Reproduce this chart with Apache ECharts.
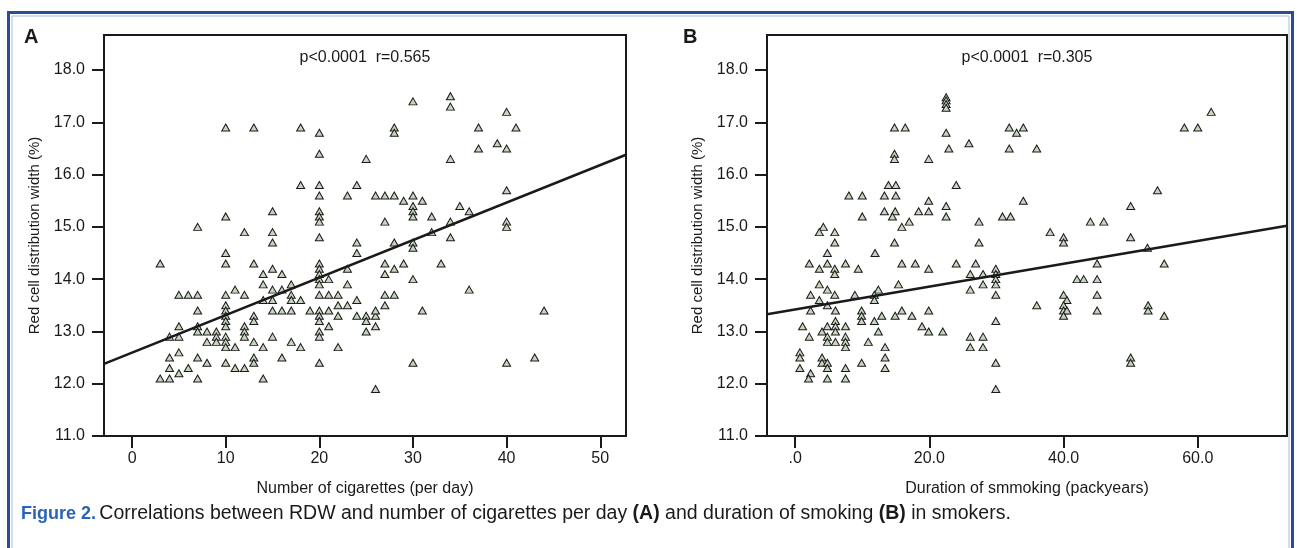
<!DOCTYPE html>
<html>
<head>
<meta charset="utf-8">
<script src="https://cdn.jsdelivr.net/npm/echarts@6/dist/echarts.min.js"></script>
<style>
html,body{margin:0;padding:0;background:#fff;}
#chart{width:1297px;height:548px;}
</style>
</head>
<body>
<div id="chart"></div>
<script>
// ---------- Panel A: number of cigarettes per day vs RDW ----------
var cigarettesA = [10,13,18,20,20,18,20,20,15,10,20,20,20,7,12,15,20,15,10,
3,10,13,14,15,16,20,20,20,20,20,21,14,15,16,17,17,17,18,11,12,
5,6,7,10,14,15,7,10,10,10,10,10,13,13,15,16,17,19,20,20,20,21,
22,22,21,20,20,5,7,4,5,7,8,9,9,8,9,10,10,10,11,12,12,12,13,14,15,17,18,22,
4,5,7,8,4,6,5,3,4,7,10,11,12,13,13,16,14,20,20,21,22,
34,30,34,40,28,28,37,41,39,37,40,25,34,24,23,26,27,28,30,29,31,30,30,30,40,35,36,27,32,34,40,40,32,34,24,24,28,30,30,
27,28,29,33,23,27,30,23,36,24,27,28,23,27,24,25,26,26,31,44,25,26,25,30,40,43,26];
var rdwA = [16.9,16.9,16.9,16.8,16.4,15.8,15.8,15.6,15.3,15.2,15.3,15.2,15.1,15.0,14.9,14.9,14.8,14.7,14.5,
14.3,14.3,14.3,14.1,14.2,14.1,14.3,14.2,14.1,14.0,13.9,14.0,13.9,13.8,13.8,13.9,13.7,13.6,13.6,13.8,13.7,
13.7,13.7,13.7,13.7,13.6,13.6,13.4,13.5,13.4,13.3,13.2,13.1,13.3,13.2,13.4,13.4,13.4,13.4,13.4,13.3,13.2,13.4,
13.5,13.3,13.1,13.0,12.9,13.1,13.1,12.9,12.9,13.0,13.0,13.0,12.9,12.8,12.8,12.9,12.8,12.7,12.7,13.1,13.0,12.9,12.8,12.7,12.9,12.8,12.7,12.7,
12.5,12.6,12.5,12.4,12.3,12.3,12.2,12.1,12.1,12.1,12.4,12.3,12.3,12.5,12.4,12.5,12.1,12.4,13.7,13.7,13.7,
17.5,17.4,17.3,17.2,16.9,16.8,16.9,16.9,16.6,16.5,16.5,16.3,16.3,15.8,15.6,15.6,15.6,15.6,15.6,15.5,15.5,15.4,15.3,15.2,15.7,15.4,15.3,15.1,15.2,15.1,15.1,15.0,14.9,14.8,14.7,14.5,14.7,14.7,14.6,
14.3,14.2,14.3,14.3,14.2,14.1,14.0,13.9,13.8,13.6,13.7,13.7,13.5,13.5,13.3,13.3,13.3,13.4,13.4,13.4,13.2,13.1,13.0,12.4,12.4,12.5,11.9];
var fitLineA = [[-3, 12.38], [52.75, 16.38]];
var xTicksA = [0, 10, 20, 30, 40, 50];
var xTickLabelsA = ['0', '10', '20', '30', '40', '50'];
var statsA = 'p<0.0001  r=0.565';

// ---------- Panel B: duration of smoking (packyears) vs RDW ----------
var packyearsB = [22.5,22.5,22.5,22.5,14.8,16.4,22.5,25.9,22.9,14.8,14.8,19.9,13.9,15.0,24.0,8,10,13.3,15,19.9,22.5,13.3,14.9,18.4,19.9,10,14.5,22.5,17,15.9,27.4,4.2,3.6,5.9,5.9,14.8,27.4,4.8,11.9,
2.1,4.8,3.6,5.9,5.9,7.5,9.4,15.9,17.9,19.9,24,26.9,26.1,28,29.9,29.9,29.9,29.9,28,26.1,29.9,15.4,3.6,2.3,4.8,5.9,8.9,12.4,11.8,11.8,3.6,2.3,4.8,6.0,9.9,9.9,9.9,12.9,11.8,14.9,15.9,17.4,19.9,18.9,19.9,22,12.4,1.1,2.1,4.0,4.8,6.0,6.0,6.0,4.8,4.8,6.0,7.5,7.5,7.5,7.5,10.9,13.4,13.4,13.4,9.9,0.7,0.7,0.7,2.3,2.0,4.0,4.0,4.8,4.8,4.8,7.5,7.5,26.1,28,26.1,28,29.9,29.9,29.9,
62,58,60,31.9,34,33,31.9,36,54,34,50,30.9,32.1,44,46,38,40,40,50,52.5,
45,55,42,43,45,40,40.5,45,36,40,40,40.5,40,45,52.6,52.6,55,50,50];
var rdwB = [17.48,17.42,17.35,17.28,16.9,16.9,16.8,16.6,16.5,16.4,16.3,16.3,15.8,15.8,15.8,15.6,15.6,15.6,15.6,15.5,15.4,15.3,15.3,15.3,15.3,15.2,15.2,15.2,15.1,15.0,15.1,15.0,14.9,14.9,14.7,14.7,14.7,14.5,14.5,
14.3,14.3,14.2,14.2,14.1,14.3,14.2,14.3,14.3,14.2,14.3,14.3,14.1,14.1,14.2,14.1,14.0,13.9,13.9,13.8,13.7,13.9,13.9,13.7,13.8,13.7,13.7,13.8,13.7,13.6,13.6,13.4,13.5,13.4,13.4,13.3,13.2,13.3,13.2,13.3,13.4,13.3,13.4,13.1,13.0,13.0,13.0,13.1,12.9,13.0,13.1,13.2,13.1,13.0,12.9,12.8,12.8,13.1,12.9,12.8,12.7,12.8,12.7,12.5,12.3,12.4,12.6,12.5,12.3,12.2,12.1,12.5,12.4,12.4,12.3,12.1,12.3,12.1,12.9,12.9,12.7,12.7,13.2,12.4,11.9,
17.2,16.9,16.9,16.9,16.9,16.8,16.5,16.5,15.7,15.5,15.4,15.2,15.2,15.1,15.1,14.9,14.8,14.7,14.8,14.6,
14.3,14.3,14.0,14.0,14.0,13.7,13.6,13.7,13.5,13.5,13.4,13.4,13.3,13.4,13.5,13.4,13.3,12.5,12.4];
var fitLineB = [[-4.2, 13.33], [73.3, 15.02]];
var xTicksB = [0, 20, 40, 60];
var xTickLabelsB = ['.0', '20.0', '40.0', '60.0'];
var statsB = 'p<0.0001  r=0.305';

// ---------- shared y axis ----------
var yTicks = [11, 12, 13, 14, 15, 16, 17, 18];
var yTickLabels = ['11.0', '12.0', '13.0', '14.0', '15.0', '16.0', '17.0', '18.0'];

var panelLetters = ['A', 'B'];
var xNames = ['Number of cigarettes (per day)', 'Duration of smmoking (packyears)'];
var yName = 'Red cell distribution width (%)';

function zip(a, b) { return a.map(function (v, i) { return [v, b[i]]; }); }

var FONT = '"Liberation Sans", Arial, Helvetica, sans-serif';
var INK = '#1a1a1a';

function makeX(idx, min, max, ticks, labels) {
  return {
    gridIndex: idx, type: 'value', min: min, max: max,
    name: xNames[idx], nameLocation: 'middle', nameGap: 45,
    nameTextStyle: { fontFamily: FONT, fontSize: 16, color: INK },
    axisLine: { show: true, onZero: false, lineStyle: { color: INK, width: 2 } },
    axisTick: { show: true, length: 12, customValues: ticks, lineStyle: { color: INK, width: 2 } },
    axisLabel: { show: true, margin: 15, customValues: ticks, fontFamily: FONT, fontSize: 16, color: INK,
      formatter: function (v) { var i = ticks.indexOf(v); return i >= 0 ? labels[i] : ''; } },
    splitLine: { show: false }
  };
}
function makeY(idx) {
  return {
    gridIndex: idx, type: 'value', min: 11, max: 18.67,
    name: yName, nameLocation: 'middle', nameGap: 62,
    nameTextStyle: { fontFamily: FONT, fontSize: 15, color: INK },
    axisLine: { show: true, onZero: false, lineStyle: { color: INK, width: 2 } },
    axisTick: { show: true, length: 12, customValues: yTicks, lineStyle: { color: INK, width: 2 } },
    axisLabel: { show: true, margin: 19, customValues: yTicks, fontFamily: FONT, fontSize: 16, color: INK,
      formatter: function (v) { var i = yTicks.indexOf(v); return i >= 0 ? yTickLabels[i] : ''; } },
    splitLine: { show: false }
  };
}
function scatter(idx, data) {
  return {
    type: 'scatter', xAxisIndex: idx, yAxisIndex: idx, data: data,
    symbol: 'triangle', symbolSize: [8, 7],
    itemStyle: { color: '#c6d6be', borderColor: INK, borderWidth: 1, opacity: 1 },
    z: 2, silent: true
  };
}
function fit(idx, data) {
  return {
    type: 'line', xAxisIndex: idx, yAxisIndex: idx, data: data,
    showSymbol: false, symbol: 'none',
    lineStyle: { color: INK, width: 2.5 }, z: 3, silent: true
  };
}

var chart = echarts.init(document.getElementById('chart'), null, { renderer: 'canvas' });
chart.setOption({
  animation: false,
  backgroundColor: '#ffffff',
  grid: [
    { left: 104, top: 35, width: 522, height: 401, show: true, borderColor: INK, borderWidth: 2, backgroundColor: 'transparent' },
    { left: 767, top: 35, width: 520, height: 401, show: true, borderColor: INK, borderWidth: 2, backgroundColor: 'transparent' }
  ],
  xAxis: [
    makeX(0, -3, 52.75, xTicksA, xTickLabelsA),
    makeX(1, -4.2, 73.3, xTicksB, xTickLabelsB)
  ],
  yAxis: [makeY(0), makeY(1)],
  series: [
    scatter(0, zip(cigarettesA, rdwA)),
    fit(0, fitLineA),
    scatter(1, zip(packyearsB, rdwB)),
    fit(1, fitLineB)
  ],
  graphic: [
    // figure frame
    { type: 'rect', shape: { x: 8.5, y: 12.5, width: 1284, height: 560 }, style: { fill: 'none', stroke: '#2b4b9b', lineWidth: 3 }, silent: true },
    { type: 'rect', shape: { x: 12, y: 16, width: 1277, height: 560 }, style: { fill: 'none', stroke: '#a9b9e0', lineWidth: 1 }, silent: true },
    // panel letters
    { type: 'text', x: 24, y: 27, style: { text: panelLetters[0], font: 'bold 20px ' + FONT, fill: INK } },
    { type: 'text', x: 683, y: 27, style: { text: panelLetters[1], font: 'bold 20px ' + FONT, fill: INK } },
    // statistics
    { type: 'text', x: 365, y: 58, style: { text: statsA, font: '16px ' + FONT, fill: INK, align: 'center', verticalAlign: 'middle' } },
    { type: 'text', x: 1027, y: 58, style: { text: statsB, font: '16px ' + FONT, fill: INK, align: 'center', verticalAlign: 'middle' } },
    // caption
    { type: 'text', x: 21, y: 514, style: {
        text: '{f|Figure 2.} {n|Correlations between RDW and number of cigarettes per day }{b|(A)}{n| and duration of smoking }{b|(B)}{n| in smokers.}',
        verticalAlign: 'middle',
        rich: {
          f: { fontFamily: FONT, fontSize: 18, fontWeight: 'bold', fill: '#2a63b8', color: '#2a63b8' },
          n: { fontFamily: FONT, fontSize: 19.5, fill: INK, color: INK },
          b: { fontFamily: FONT, fontSize: 19.5, fontWeight: 'bold', fill: INK, color: INK }
        }
      } }
  ]
});
</script>
</body>
</html>
